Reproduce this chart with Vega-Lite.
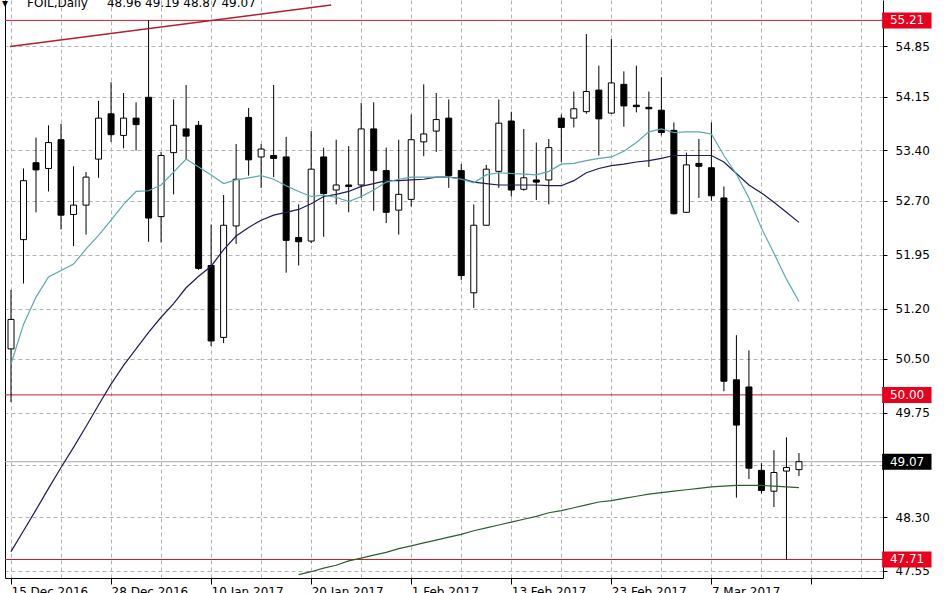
{
  "$schema": "https://vega.github.io/schema/vega-lite/v6.json",
  "width": 878,
  "height": 578,
  "autosize": "none",
  "padding": {"left": 5, "top": 0, "right": 65, "bottom": 15},
  "background": "white",
  "config": {"view": {"stroke": null}, "font": "DejaVu Sans"},
  "title": {"text": "▾\u00a0\u00a0\u00a0\u00a0\u00a0FOIL,Daily\u00a0\u00a0\u00a0\u00a0\u00a048.96 49.19 48.87 49.07", "anchor": "start", "frame": "group", "orient": "top", "offset": 0, "dy": 19, "fontSize": 12, "fontWeight": "normal", "font": "DejaVu Sans", "color": "black", "baseline": "alphabetic", "dx": -3},
  "datasets": {
    "bars": [
      {"i":0,"o":50.64,"h":51.46,"l":49.90,"c":51.05,"fast":50.43,"slow":47.82},
      {"i":1,"o":52.16,"h":53.15,"l":51.55,"c":52.98,"fast":50.98,"slow":48.11},
      {"i":2,"o":53.23,"h":53.58,"l":52.54,"c":53.13,"fast":51.36,"slow":48.40},
      {"i":3,"o":53.15,"h":53.75,"l":52.83,"c":53.51,"fast":51.64,"slow":48.70},
      {"i":4,"o":53.55,"h":53.77,"l":52.30,"c":52.50,"fast":51.73,"slow":48.99},
      {"i":5,"o":52.51,"h":53.18,"l":52.07,"c":52.64,"fast":51.82,"slow":49.27},
      {"i":6,"o":52.64,"h":53.10,"l":52.23,"c":53.03,"fast":52.03,"slow":49.56},
      {"i":7,"o":53.28,"h":54.09,"l":53.02,"c":53.85,"fast":52.22,"slow":49.86},
      {"i":8,"o":53.91,"h":54.35,"l":53.52,"c":53.62,"fast":52.43,"slow":50.15},
      {"i":9,"o":53.61,"h":54.20,"l":53.43,"c":53.85,"fast":52.65,"slow":50.41},
      {"i":10,"o":53.85,"h":54.07,"l":53.40,"c":53.76,"fast":52.83,"slow":50.64},
      {"i":11,"o":54.14,"h":55.21,"l":52.13,"c":52.46,"fast":52.84,"slow":50.87},
      {"i":12,"o":52.48,"h":53.38,"l":52.12,"c":53.33,"fast":52.92,"slow":51.08},
      {"i":13,"o":53.37,"h":54.11,"l":52.79,"c":53.75,"fast":53.10,"slow":51.27},
      {"i":14,"o":53.70,"h":54.31,"l":53.28,"c":53.60,"fast":53.28,"slow":51.49},
      {"i":15,"o":53.75,"h":53.81,"l":51.74,"c":51.76,"fast":53.17,"slow":51.65},
      {"i":16,"o":51.80,"h":52.37,"l":50.68,"c":50.75,"fast":53.06,"slow":51.79},
      {"i":17,"o":50.80,"h":52.78,"l":50.72,"c":52.36,"fast":52.94,"slow":52.02},
      {"i":18,"o":52.35,"h":53.49,"l":52.10,"c":53.00,"fast":52.99,"slow":52.21},
      {"i":19,"o":53.86,"h":53.99,"l":53.05,"c":53.27,"fast":53.02,"slow":52.33},
      {"i":20,"o":53.31,"h":53.49,"l":52.88,"c":53.42,"fast":53.05,"slow":52.43},
      {"i":21,"o":53.33,"h":54.31,"l":53.03,"c":53.29,"fast":53.00,"slow":52.50},
      {"i":22,"o":53.31,"h":53.59,"l":51.70,"c":52.15,"fast":52.91,"slow":52.54},
      {"i":23,"o":52.19,"h":52.65,"l":51.80,"c":52.13,"fast":52.83,"slow":52.58,"ma200":47.50},
      {"i":24,"o":52.14,"h":53.67,"l":52.11,"c":53.14,"fast":52.76,"slow":52.66,"ma200":47.54},
      {"i":25,"o":53.31,"h":53.44,"l":52.20,"c":52.80,"fast":52.78,"slow":52.76,"ma200":47.59},
      {"i":26,"o":52.85,"h":53.55,"l":52.65,"c":52.92,"fast":52.75,"slow":52.79,"ma200":47.63},
      {"i":27,"o":52.92,"h":53.46,"l":52.54,"c":52.90,"fast":52.69,"slow":52.83,"ma200":47.69},
      {"i":28,"o":52.92,"h":54.06,"l":52.74,"c":53.70,"fast":52.76,"slow":52.90,"ma200":47.73},
      {"i":29,"o":53.70,"h":54.07,"l":52.56,"c":53.12,"fast":52.85,"slow":52.94,"ma200":47.77},
      {"i":30,"o":53.12,"h":53.44,"l":52.39,"c":52.54,"fast":52.96,"slow":52.98,"ma200":47.81},
      {"i":31,"o":52.57,"h":53.55,"l":52.23,"c":52.79,"fast":53.00,"slow":52.98,"ma200":47.86},
      {"i":32,"o":52.72,"h":53.90,"l":52.62,"c":53.55,"fast":53.03,"slow":52.99,"ma200":47.90},
      {"i":33,"o":53.52,"h":54.32,"l":53.32,"c":53.63,"fast":53.03,"slow":53.00,"ma200":47.94},
      {"i":34,"o":53.67,"h":54.20,"l":53.38,"c":53.83,"fast":53.03,"slow":53.03,"ma200":47.98},
      {"i":35,"o":53.85,"h":54.11,"l":52.88,"c":53.05,"fast":53.03,"slow":53.03,"ma200":48.02},
      {"i":36,"o":53.12,"h":53.21,"l":51.60,"c":51.66,"fast":53.00,"slow":53.01,"ma200":48.06},
      {"i":37,"o":51.42,"h":52.65,"l":51.21,"c":52.36,"fast":52.95,"slow":52.96,"ma200":48.11},
      {"i":38,"o":52.36,"h":53.20,"l":52.35,"c":53.14,"fast":53.06,"slow":52.94,"ma200":48.15},
      {"i":39,"o":53.11,"h":54.11,"l":52.88,"c":53.78,"fast":53.09,"slow":52.92,"ma200":48.19},
      {"i":40,"o":53.81,"h":53.94,"l":52.76,"c":52.85,"fast":53.08,"slow":52.92,"ma200":48.23},
      {"i":41,"o":52.86,"h":53.70,"l":52.84,"c":53.02,"fast":53.07,"slow":52.92,"ma200":48.27},
      {"i":42,"o":52.99,"h":53.51,"l":52.71,"c":52.96,"fast":53.06,"slow":52.92,"ma200":48.31},
      {"i":43,"o":52.99,"h":53.56,"l":52.65,"c":53.44,"fast":53.11,"slow":52.91,"ma200":48.36},
      {"i":44,"o":53.85,"h":53.90,"l":53.24,"c":53.72,"fast":53.21,"slow":52.91,"ma200":48.39},
      {"i":45,"o":53.85,"h":54.22,"l":53.72,"c":53.98,"fast":53.22,"slow":52.98,"ma200":48.43},
      {"i":46,"o":53.94,"h":55.02,"l":53.91,"c":54.22,"fast":53.26,"slow":53.09,"ma200":48.47},
      {"i":47,"o":54.24,"h":54.58,"l":53.33,"c":53.84,"fast":53.29,"slow":53.15,"ma200":48.51},
      {"i":48,"o":53.92,"h":54.95,"l":53.91,"c":54.34,"fast":53.31,"slow":53.19,"ma200":48.53},
      {"i":49,"o":54.32,"h":54.50,"l":53.73,"c":54.02,"fast":53.39,"slow":53.21,"ma200":48.56},
      {"i":50,"o":54.03,"h":54.58,"l":53.93,"c":54.01,"fast":53.51,"slow":53.24,"ma200":48.59},
      {"i":51,"o":54.00,"h":54.22,"l":53.17,"c":53.98,"fast":53.66,"slow":53.26,"ma200":48.62},
      {"i":52,"o":53.96,"h":54.42,"l":53.61,"c":53.65,"fast":53.70,"slow":53.29,"ma200":48.64},
      {"i":53,"o":53.68,"h":53.79,"l":52.51,"c":52.52,"fast":53.65,"slow":53.33,"ma200":48.66},
      {"i":54,"o":52.54,"h":53.37,"l":52.53,"c":53.20,"fast":53.66,"slow":53.33,"ma200":48.68},
      {"i":55,"o":53.22,"h":53.56,"l":52.74,"c":53.18,"fast":53.66,"slow":53.33,"ma200":48.70},
      {"i":56,"o":53.16,"h":53.79,"l":52.70,"c":52.77,"fast":53.63,"slow":53.33,"ma200":48.72},
      {"i":57,"o":52.74,"h":52.90,"l":50.05,"c":50.19,"fast":53.33,"slow":53.24,"ma200":48.73},
      {"i":58,"o":50.21,"h":50.83,"l":48.57,"c":49.58,"fast":53.07,"slow":53.08,"ma200":48.74},
      {"i":59,"o":50.11,"h":50.62,"l":48.83,"c":48.98,"fast":52.74,"slow":52.92,"ma200":48.74},
      {"i":60,"o":48.95,"h":49.05,"l":48.63,"c":48.67,"fast":52.32,"slow":52.81,"ma200":48.74},
      {"i":61,"o":48.66,"h":49.23,"l":48.44,"c":48.92,"fast":51.97,"slow":52.68,"ma200":48.73},
      {"i":62,"o":48.94,"h":49.41,"l":47.71,"c":48.99,"fast":51.61,"slow":52.54,"ma200":48.72},
      {"i":63,"o":48.96,"h":49.19,"l":48.87,"c":49.07,"fast":51.30,"slow":52.40,"ma200":48.71}
    ],
    "levels": [
      {"price": 55.21, "kind": "level"},
      {"price": 50.00, "kind": "level"},
      {"price": 47.71, "kind": "level"},
      {"price": 49.07, "kind": "bid"}
    ],
    "trend": [
      {"i": -0.08, "price": 54.846},
      {"i": 25.6, "price": 55.424}
    ]
  },
  "resolve": {"axis": {"y": "independent"}},
  "layer": [
    {
      "data": {"name": "levels"},
      "mark": {"type": "rule", "strokeWidth": 1},
      "encoding": {
        "y": {"field": "price", "type": "quantitative",
          "scale": {"domain": [47.522, 55.424], "nice": false, "zero": false},
          "axis": {"orient": "left", "domain": true, "domainColor": "black", "domainWidth": 1, "labels": false, "ticks": false, "grid": false, "title": null}},
        "stroke": {"field": "kind", "type": "nominal", "scale": {"domain": ["level", "bid"], "range": ["#c41e32", "#a8a8a8"]}, "legend": null}
      }
    },
    {
      "data": {"name": "bars"},
      "mark": {"type": "rule", "color": "black", "strokeWidth": 1},
      "encoding": {
        "x": {"field": "i", "type": "quantitative",
          "scale": {"domain": [-0.08, 69.32], "nice": false, "zero": false},
          "axis": {"orient": "bottom", "values": [0,4,8,12,16,20,24,28,32,36,40,44,48,52,56,60,64,68],
            "grid": true, "gridColor": "#b4b4b4", "gridDash": [4, 3], "gridWidth": 1,
            "domainColor": "black", "domainWidth": 1,
            "tickColor": "black", "tickSize": 6,
            "tickOpacity": {"condition": {"test": "datum.value % 8 == 0", "value": 1}, "value": 0},
            "labelExpr": "datum.value==0?'15 Dec 2016':datum.value==8?'28 Dec 2016':datum.value==16?'10 Jan 2017':datum.value==24?'20 Jan 2017':datum.value==32?'1 Feb 2017':datum.value==40?'13 Feb 2017':datum.value==48?'23 Feb 2017':datum.value==56?'7 Mar 2017':''",
            "labelAlign": "left", "labelBaseline": "top", "labelPadding": 2, "labelFontSize": 12, "labelFont": "DejaVu Sans", "labelColor": "black",
            "labelOverlap": false, "labelFlush": false, "labelBound": false, "title": null, "zindex": 0}},
        "y": {"field": "l", "type": "quantitative",
          "axis": {"orient": "right", "values": [47.55, 48.30, 49.03, 49.75, 50.50, 51.20, 51.95, 52.70, 53.40, 54.15, 54.85],
            "grid": true, "gridColor": "#b4b4b4", "gridDash": [4, 3], "gridWidth": 1,
            "domainColor": "black", "domainWidth": 1,
            "tickColor": "black", "tickSize": 4,
            "labelExpr": "datum.value > 49 && datum.value < 49.1 ? '' : format(datum.value, '.2f')",
            "labelPadding": 8, "labelFontSize": 12, "labelFont": "DejaVu Sans", "labelColor": "black",
            "labelOverlap": false, "labelFlush": false, "labelBound": false, "title": null, "zindex": 0}},
        "y2": {"field": "h"}
      }
    },
    {
      "data": {"name": "bars"},
      "mark": {"type": "bar", "orient": "vertical", "size": 6, "stroke": "black", "strokeWidth": 1},
      "encoding": {
        "x": {"field": "i", "type": "quantitative"},
        "y": {"field": "o", "type": "quantitative", "axis": null},
        "y2": {"field": "c"},
        "fill": {"condition": {"test": "datum.c > datum.o", "value": "white"}, "value": "black"}
      }
    },
    {
      "data": {"name": "bars"},
      "mark": {"type": "line", "color": "#2e5e2e", "strokeWidth": 1.2, "clip": true},
      "encoding": {
        "x": {"field": "i", "type": "quantitative"},
        "y": {"field": "ma200", "type": "quantitative", "axis": null}
      }
    },
    {
      "data": {"name": "bars"},
      "mark": {"type": "line", "color": "#1c1c5a", "strokeWidth": 1.2, "clip": true},
      "encoding": {
        "x": {"field": "i", "type": "quantitative"},
        "y": {"field": "slow", "type": "quantitative", "axis": null}
      }
    },
    {
      "data": {"name": "bars"},
      "mark": {"type": "line", "color": "#5aa9ad", "strokeWidth": 1.2, "clip": true},
      "encoding": {
        "x": {"field": "i", "type": "quantitative"},
        "y": {"field": "fast", "type": "quantitative", "axis": null}
      }
    },
    {
      "data": {"name": "trend"},
      "mark": {"type": "line", "color": "#b0202e", "strokeWidth": 1.5, "clip": true},
      "encoding": {
        "x": {"field": "i", "type": "quantitative"},
        "y": {"field": "price", "type": "quantitative", "axis": null}
      }
    },
    {
      "data": {"name": "levels"},
      "mark": {"type": "bar", "orient": "horizontal", "size": 16, "clip": false},
      "encoding": {
        "y": {"field": "price", "type": "quantitative", "axis": null},
        "x": {"datum": 69.65, "type": "quantitative"},
        "x2": {"datum": 73.6},
        "fill": {"field": "kind", "type": "nominal", "scale": {"domain": ["level", "bid"], "range": ["#e8001c", "#000000"]}, "legend": null}
      }
    },
    {
      "data": {"name": "levels"},
      "mark": {"type": "text", "align": "left", "baseline": "middle", "color": "white", "fontSize": 12, "font": "DejaVu Sans", "clip": false},
      "encoding": {
        "y": {"field": "price", "type": "quantitative", "axis": null},
        "x": {"datum": 70.27, "type": "quantitative"},
        "text": {"field": "price", "type": "quantitative", "format": ".2f"}
      }
    }
  ]
}
